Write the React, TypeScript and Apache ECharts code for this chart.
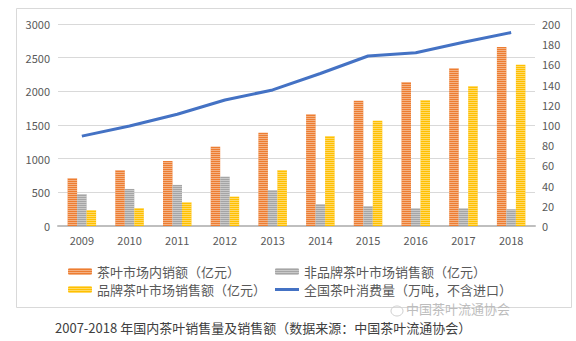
import React, { useEffect, useRef } from "react";
import * as echarts from "echarts";

const years = ["2009", "2010", "2011", "2012", "2013", "2014", "2015", "2016", "2017", "2018"];
const domesticSales = [710, 830, 965, 1178, 1386, 1660, 1861, 2140, 2342, 2660];
const nonBrandSales = [475, 550, 610, 732, 535, 327, 297, 263, 263, 248];
const brandSales = [238, 267, 352, 436, 832, 1337, 1564, 1871, 2079, 2396];
const consumption = [89, 99, 110.6, 124.8, 134.7, 151, 168.3, 171.6, 182, 191.5];

const leftTicks = { min: 0, max: 3000, interval: 500 };
const rightTicks = { min: 0, max: 200, interval: 20 };

const names = [
  "茶叶市场内销额（亿元）",
  "非品牌茶叶市场销售额（亿元）",
  "品牌茶叶市场销售额（亿元）",
  "全国茶叶消费量（万吨，不含进口）",
];

const FONT = "'Noto Sans CJK SC', 'Noto Sans', sans-serif";
const TXT = "#595959";

export default function App() {
  const ref = useRef<HTMLDivElement>(null);
  useEffect(() => {
    if (!ref.current) return;
    const chart = echarts.init(ref.current, undefined, { renderer: "svg" });
    const stripe = (c: string) => ({
      symbol: "rect",
      symbolSize: 1,
      dashArrayX: [1, 0],
      dashArrayY: [1, 1],
      rotation: 0,
      color: c,
    });
    const legendText = { color: TXT, fontSize: 13, fontFamily: FONT };
    chart.setOption({
      animation: false,
      backgroundColor: "#fff",
      textStyle: { fontFamily: FONT },
      grid: { left: 58, right: 41, top: 24, bottom: 115 },
      xAxis: {
        type: "category",
        data: years,
        axisLine: { lineStyle: { color: "#BFBFBF", width: 2 } },
        axisTick: { show: false },
        axisLabel: { color: TXT, fontSize: 11, margin: 8 },
      },
      yAxis: [
        {
          type: "value",
          ...leftTicks,
          axisLine: { show: false },
          axisTick: { show: false },
          splitLine: { lineStyle: { color: "#D9D9D9" } },
          axisLabel: { color: TXT, fontSize: 11, margin: 8, formatter: (v: number) => String(v) },
        },
        {
          type: "value",
          ...rightTicks,
          axisLine: { show: false },
          axisTick: { show: false },
          splitLine: { show: false },
          axisLabel: { color: TXT, fontSize: 11, margin: 7, formatter: (v: number) => String(v) },
        },
      ],
      legend: [
        {
          orient: "vertical",
          left: 63,
          top: 260,
          itemWidth: 24,
          itemHeight: 7,
          itemGap: 5,
          textStyle: legendText,
          data: [names[0], names[2]],
        },
        {
          orient: "vertical",
          left: 270,
          top: 260,
          itemWidth: 24,
          itemHeight: 7,
          itemGap: 5,
          textStyle: legendText,
          data: [names[1], { name: names[3], icon: "path://M0 0H24V3H0Z" }],
        },
      ],
      series: [
        {
          name: names[0],
          type: "bar",
          data: domesticSales,
          barWidth: 9.5,
          barGap: "0%",
          itemStyle: { color: "#ED7D31", decal: stripe("rgba(255,255,255,0.4)") },
        },
        {
          name: names[1],
          type: "bar",
          data: nonBrandSales,
          barWidth: 9.5,
          barGap: "0%",
          itemStyle: { color: "#A5A5A5", decal: stripe("rgba(255,255,255,0.4)") },
        },
        {
          name: names[2],
          type: "bar",
          data: brandSales,
          barWidth: 9.5,
          barGap: "0%",
          itemStyle: { color: "#FFC000", decal: stripe("rgba(255,255,255,0.4)") },
        },
        {
          name: names[3],
          type: "line",
          yAxisIndex: 1,
          data: consumption,
          symbol: "none",
          lineStyle: { color: "#4472C4", width: 3 },
          itemStyle: { color: "#4472C4" },
        },
      ],
      graphic: [
        {
          type: "rect",
          shape: { x: 16.5, y: 8.5, width: 555, height: 299 },
          style: { fill: "none", stroke: "#D9D9D9", lineWidth: 1 },
          silent: true,
        },
        {
          type: "ellipse",
          shape: { cx: 397, cy: 311, rx: 6, ry: 5 },
          style: { fill: "none", stroke: "#CFCFCF", lineWidth: 1 },
          silent: true,
        },
        {
          type: "text",
          left: 406,
          top: 302,
          style: { text: "中国茶叶流通协会", fill: "#BDBDBD", fontSize: 13, fontFamily: FONT },
        },
        {
          type: "text",
          left: 55,
          top: 321,
          style: {
            text: "2007-2018 年国内茶叶销售量及销售额（数据来源：中国茶叶流通协会）",
            fill: "#404040",
            fontSize: 13,
            fontFamily: FONT,
          },
        },
      ],
    });
    return () => chart.dispose();
  }, []);
  return <div ref={ref} style={{ width: 576, height: 341, position: "absolute", left: 0, top: 0 }} />;
}
